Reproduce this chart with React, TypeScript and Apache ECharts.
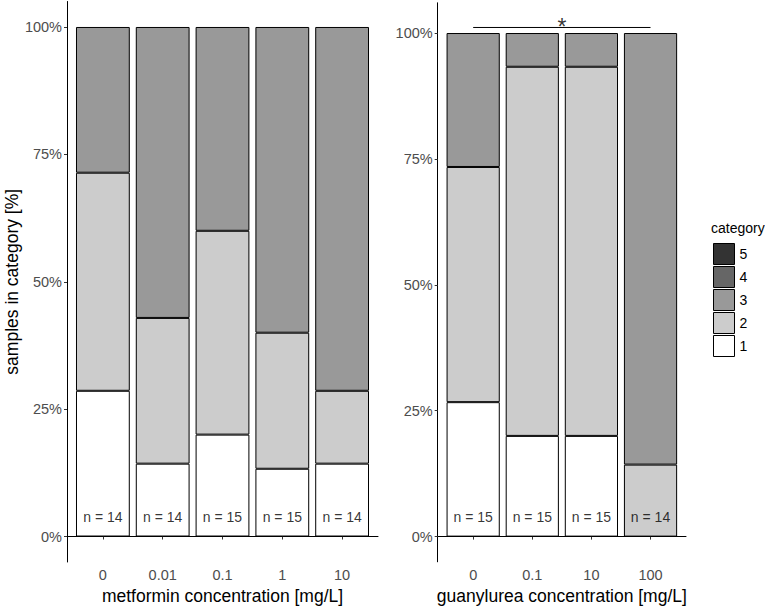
import React, { useEffect, useRef } from "react";
import * as echarts from "echarts";

// ---- data ----
const metforminConcentrations = ["0", "0.01", "0.1", "1", "10"];
const guanylureaConcentrations = ["0", "0.1", "10", "100"];

const categoryNames = ["1", "2", "3", "4", "5"];
const categoryColors = ["#ffffff", "#cccccc", "#999999", "#666666", "#333333"];
const legendOrder = ["5", "4", "3", "2", "1"];

// metformin: percent of samples per category
const metCat1 = [28.6, 14.3, 20.0, 13.3, 14.3];
const metCat2 = [42.8, 28.6, 40.0, 26.7, 14.3];
const metCat3 = [28.6, 57.1, 40.0, 60.0, 71.4];
const metCat4 = [0, 0, 0, 0, 0];
const metCat5 = [0, 0, 0, 0, 0];
const metN = [14, 14, 15, 15, 14];

// guanylurea: percent of samples per category
const guaCat1 = [26.7, 20.0, 20.0, 0];
const guaCat2 = [46.7, 73.3, 73.3, 14.3];
const guaCat3 = [26.6, 6.7, 6.7, 85.7];
const guaCat4 = [0, 0, 0, 0];
const guaCat5 = [0, 0, 0, 0];
const guaN = [15, 15, 15, 14];

const yTicks = [0, 25, 50, 75, 100];
const yTickLabels = ["0%", "25%", "50%", "75%", "100%"];
const nLabelLevel = 3.8;
const bracketFrom = 1;
const bracketTo = 4;
const bracketLevel = 101.1;
const bracketText = "*";

const FONT = "Liberation Sans, Arial, sans-serif";

function buildOption() {
  const leftSets = [metCat1, metCat2, metCat3, metCat4, metCat5];
  const rightSets = [guaCat1, guaCat2, guaCat3, guaCat4, guaCat5];

  // value first, position second, so that the stack runs on the y value
  const barSeries = (sets: number[][], axis: number, stack: string, width: number) =>
    sets.map((vals, k) => ({
      type: "bar",
      name: categoryNames[k],
      xAxisIndex: axis,
      yAxisIndex: axis,
      stack,
      barWidth: width,
      silent: true,
      encode: { x: 1, y: 0 },
      data: vals.map((v, i) => ({
        value: [v, i + 1],
        itemStyle: { borderWidth: v === 0 ? 0 : 1 },
      })),
      itemStyle: { color: categoryColors[k], borderColor: "#000", borderWidth: 1 },
    }));

  const nSeries = (ns: number[], axis: number) => ({
    type: "scatter",
    xAxisIndex: axis,
    yAxisIndex: axis,
    silent: true,
    z: 5,
    symbolSize: 1,
    itemStyle: { color: "rgba(0,0,0,0)" },
    data: ns.map((n, i) => [i + 1, nLabelLevel, n]),
    label: {
      show: true,
      position: "inside",
      formatter: (p: any) => "n = " + p.value[2],
      fontSize: 14,
      color: "#000",
      fontFamily: FONT,
    },
  });

  const xAxisBase = (cats: string[], idx: number, name: string) => ({
    type: "value",
    gridIndex: idx,
    min: 0.4,
    max: cats.length + 0.6,
    name,
    nameLocation: "middle",
    nameGap: 23,
    nameTextStyle: { fontSize: 17.5, color: "#000", fontFamily: FONT },
    splitLine: { show: false },
    axisLine: { show: true, lineStyle: { color: "#000", width: 1 } },
    axisTick: {
      show: true,
      length: 3,
      customValues: cats.map((_, i) => i + 1),
      lineStyle: { color: "#333" },
    },
    axisLabel: {
      customValues: cats.map((_, i) => i + 1),
      formatter: (v: number) => cats[Math.round(v) - 1] ?? "",
      fontSize: 14.5,
      color: "#4d4d4d",
      fontFamily: FONT,
      margin: 5.5,
    },
  });

  const yAxisBase = (idx: number, max: number, name: string) => ({
    type: "value",
    gridIndex: idx,
    min: -5,
    max,
    name,
    nameLocation: "middle",
    nameGap: 41,
    nameTextStyle: { fontSize: 17.5, color: "#000", fontFamily: FONT },
    splitLine: { show: false },
    axisLine: { show: true, lineStyle: { color: "#000", width: 1 } },
    axisTick: {
      show: true,
      length: 3,
      customValues: yTicks,
      lineStyle: { color: "#333" },
    },
    axisLabel: {
      customValues: yTicks,
      formatter: (v: number) => yTickLabels[yTicks.indexOf(v)] ?? "",
      fontSize: 14.5,
      color: "#4d4d4d",
      fontFamily: FONT,
      margin: 5,
    },
  });

  return {
    animation: false,
    textStyle: { fontFamily: FONT },
    title: [
      {
        text: "category",
        left: 706,
        top: 216,
        textStyle: { fontSize: 14, fontWeight: "normal", color: "#000", fontFamily: FONT },
      },
    ],
    legend: {
      data: legendOrder,
      orient: "vertical",
      left: 708,
      top: 238,
      icon: "rect",
      itemWidth: 21,
      itemHeight: 21,
      itemGap: 1,
      selectedMode: false,
      itemStyle: { borderColor: "#000", borderWidth: 1 },
      textStyle: { fontSize: 14, color: "#000", fontFamily: FONT },
    },
    grid: [
      { left: 67, top: 1.5, width: 311, height: 560.5, outerBoundsMode: "none", containLabel: false },
      { left: 437.7, top: 2.8, width: 248.3, height: 559, outerBoundsMode: "none", containLabel: false },
    ],
    xAxis: [
      xAxisBase(metforminConcentrations, 0, "metformin concentration [mg/L]"),
      xAxisBase(guanylureaConcentrations, 1, "guanylurea concentration [mg/L]"),
    ],
    yAxis: [yAxisBase(0, 105, "samples in category [%]"), yAxisBase(1, 106, "")],
    series: [
      ...barSeries(leftSets, 0, "met", 53.8),
      ...barSeries(rightSets, 1, "gua", 53.2),
      nSeries(metN, 0),
      nSeries(guaN, 1),
      {
        type: "line",
        xAxisIndex: 1,
        yAxisIndex: 1,
        silent: true,
        symbol: "none",
        lineStyle: { color: "#000", width: 1 },
        data: [
          [bracketFrom, bracketLevel],
          [bracketTo, bracketLevel],
        ],
      },
      {
        type: "scatter",
        xAxisIndex: 1,
        yAxisIndex: 1,
        silent: true,
        symbolSize: 1,
        itemStyle: { color: "rgba(0,0,0,0)" },
        data: [[(bracketFrom + bracketTo) / 2, bracketLevel]],
        label: {
          show: true,
          position: "inside",
          offset: [0, 0],
          formatter: bracketText,
          fontSize: 23,
          color: "#000",
          fontFamily: FONT,
        },
      },
    ],
  };
}

export default function App() {
  const ref = useRef<HTMLDivElement>(null);
  useEffect(() => {
    if (!ref.current) return;
    const chart = echarts.init(ref.current, undefined, { renderer: "svg" });
    chart.setOption(buildOption() as any);
    return () => chart.dispose();
  }, []);
  return (
    <div
      ref={ref}
      style={{ position: "absolute", left: 0, top: 0, width: 765, height: 606, background: "#fff" }}
    />
  );
}
